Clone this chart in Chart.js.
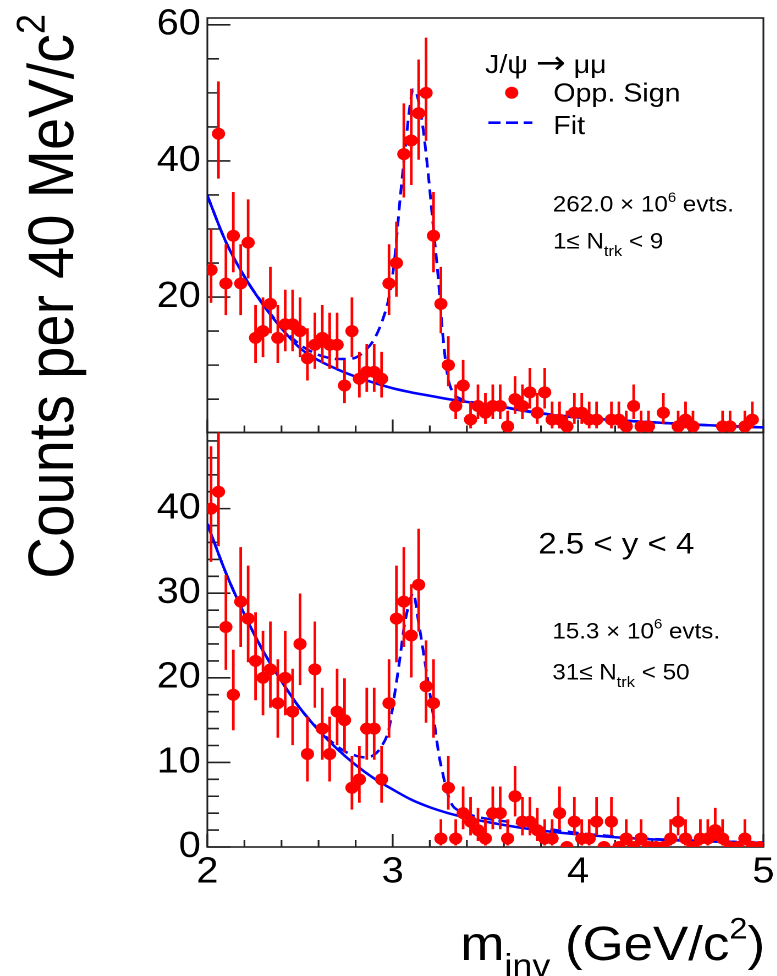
<!DOCTYPE html>
<html><head><meta charset="utf-8">
<script src="https://cdn.jsdelivr.net/npm/chart.js@4.4.1/dist/chart.umd.min.js"></script>
<style>
html,body{margin:0;padding:0;background:#fff;overflow:hidden;width:777px;height:976px;}
#wrap{position:absolute;left:0;top:0;width:706.36px;height:976px;transform:scaleX(1.1);transform-origin:0 0;}
</style></head><body>
<div id="wrap"><canvas id="c"></canvas></div>
<script>
// ---------------- data ----------------
const binCenters = [2.02,2.06,2.10,2.14,2.18,2.22,2.26,2.30,2.34,2.38,2.42,2.46,2.50,2.54,2.58,2.62,2.66,2.70,2.74,2.78,
  2.82,2.86,2.90,2.94,2.98,3.02,3.06,3.10,3.14,3.18,3.22,3.26,3.30,3.34,3.38,3.42,3.46,3.50,3.54,3.58,
  3.62,3.66,3.70,3.74,3.78,3.82,3.86,3.90,3.94,3.98,4.02,4.06,4.10,4.14,4.18,4.22,4.26,4.30,4.34,4.38,
  4.42,4.46,4.50,4.54,4.58,4.62,4.66,4.70,4.74,4.78,4.82,4.86,4.90,4.94,4.98];
// top panel: 1 <= Ntrk < 9
const countsTop = [24,44,22,29,22,28,14,15,19,14,16,16,15,11,13,14,13,13,7,15,
  8,9,9,8,22,25,41,43,47,50,29,19,10,4,7,2,4,3,4,4,
  1,5,4,6,3,6,2,2,1,3,3,2,2,0,2,2,1,4,1,1,
  0,3,0,1,2,1,0,0,0,1,1,0,1,2,0];
// bottom panel: 31 <= Ntrk < 50
const countsBottom = [40,42,26,18,29,27,22,20,21,17,20,16,24,11,21,14,11,16,15,7,
  8,14,14,8,17,27,29,25,31,19,17,1,7,1,4,3,2,1,4,4,
  1,6,3,3,2,1,1,4,0,3,1,1,3,0,3,0,1,0,1,0,
  0,0,1,3,1,0,1,1,2,1,0,0,1,0,0];
// fitted curves
const bkgTopX = [2.0,2.1,2.2,2.3,2.4,2.5,2.6,2.7,2.8,2.9,3.0,3.1,3.2,3.3,3.4,3.5,3.6,3.7,3.8,3.9,4.0,4.2,4.4,4.6,4.8,5.0];
const bkgTopY = [34.9,28.1,23.0,18.9,15.4,12.5,10.7,9.4,8.3,7.4,6.6,6.0,5.5,5.0,4.6,4.2,3.8,3.3,2.9,2.55,2.3,1.9,1.6,1.3,1.05,0.85];
const fitTopX = [2.0,2.1,2.2,2.3,2.4,2.5,2.6,2.65,2.7,2.75,2.8,2.85,2.9,2.95,2.98,3.01,3.04,3.07,3.09,3.11,3.13,3.16,3.19,3.22,3.245,3.27,3.295,3.32,3.37,3.45,3.5,3.6,3.7,3.8,3.9,4.0,4.2,4.4,4.6,4.8,5.0];
const fitTopY = [34.9,28.1,23.0,19.0,15.6,13.0,11.5,11.1,10.9,10.9,11.1,12.1,13.8,17.0,20.0,25.5,34.5,42.5,47.5,50.5,49.8,45.5,38.5,30.0,23.0,14.5,8.6,6.2,5.0,4.45,4.25,3.85,3.35,2.95,2.6,2.35,1.95,1.6,1.3,1.05,0.85];
const bkgBotX = [2.0,2.1,2.2,2.3,2.4,2.5,2.6,2.7,2.8,2.9,3.0,3.1,3.2,3.3,3.4,3.5,3.6,3.7,3.8,3.9,4.0,4.2,4.4,4.6,4.8,5.0];
const bkgBotY = [38.2,32.4,27.5,23.2,19.6,16.4,13.8,11.6,9.7,8.1,6.8,5.6,4.7,4.0,3.45,3.0,2.6,2.25,1.95,1.7,1.5,1.15,0.9,0.72,0.6,0.5];
const fitBotX = [2.0,2.1,2.2,2.3,2.4,2.5,2.6,2.7,2.75,2.8,2.85,2.9,2.94,2.98,3.01,3.04,3.06,3.09,3.11,3.14,3.18,3.22,3.25,3.27,3.29,3.32,3.37,3.45,3.55,3.65,3.75,3.85,4.0,4.2,4.4,4.6,4.8,5.0];
const fitBotY = [38.2,32.4,27.5,23.2,19.6,16.4,13.9,11.9,11.2,10.8,10.6,10.9,11.9,14.0,18.0,22.5,25.8,28.9,30.0,26.5,21.0,15.4,10.8,8.7,6.8,5.0,4.2,3.6,3.2,2.9,2.5,2.1,1.65,1.25,0.95,0.78,0.64,0.55];
const xTickValues = [2,3,4,5];
const yTopTickValues = [20,40,60];
const yBotTickValues = [0,10,20,30,40];

// ---------------- helpers ----------------
const FONT = '"Liberation Sans", Arial, Helvetica, sans-serif';
const SYMFONT = '"DejaVu Sans", "Liberation Sans", sans-serif';
const RED = '#ff0000', BLUE = '#0000ff';
// 68% Poisson (Garwood) interval, Wilson-Hilferty approximation
function poisUp(n){ const m=n+1; return m*Math.pow(1-1/(9*m)+1/(3*Math.sqrt(m)),3); }
function poisLo(n){ if(n<=0) return 0; return n*Math.pow(1-1/(9*n)-1/(3*Math.sqrt(n)),3); }
function pts(xs, ys, hideZero){ return xs.map((x,i)=>({x:x, y:(hideZero && ys[i]<=0)?null:ys[i]})); }
function noPad(s){ s.paddingTop=0; s.paddingBottom=0; s.paddingLeft=0; s.paddingRight=0; }

function drawRich(ctx, parts, x, y, size, align){
  const segs=[]; let w=0;
  for(const [t,k] of parts){
    const s = k==='sup'? size*0.62 : k==='sub'? size*0.68 : k==='arrow'? size*1.25 : size;
    const fam = k==='arrow'? SYMFONT : FONT;
    ctx.font = s+'px '+fam;
    const m = ctx.measureText(t).width;
    segs.push({t:t,s:s,f:fam,dy:k==='sup'? -size*0.45 : k==='sub'? size*0.34 : k==='arrow'? size*0.02 : 0,w:m});
    w+=m;
  }
  let cx = align==='right'? x-w : align==='center'? x-w/2 : x;
  ctx.textAlign='left'; ctx.textBaseline='alphabetic';
  for(const g of segs){ ctx.font=g.s+'px '+g.f; ctx.fillText(g.t,cx,y+g.dy); cx+=g.w; }
}

const framePlugin = {
  id:'frame',
  beforeDatasetsDraw(chart){
    const ctx=chart.ctx, xs=chart.scales.x, a=chart.chartArea;
    ctx.save();
    ctx.strokeStyle='#222'; ctx.lineWidth=1.6;
    const panels=[{s:chart.scales.yTop,minor:5,major:20,max:61,min:5},{s:chart.scales.yBot,minor:2,major:10,max:49,min:0}];
    for(const p of panels){
      const s=p.s;
      ctx.strokeRect(a.left, s.top, a.right-a.left, s.bottom-s.top);
      ctx.beginPath();
      for(let v=p.min; v<=p.max+1e-9; v+=p.minor){
        const py=s.getPixelForValue(v);
        if(py<s.top-0.5||py>s.bottom+0.5) continue;
        const isMaj=Math.abs(v/p.major-Math.round(v/p.major))<1e-6;
        ctx.moveTo(a.left,py); ctx.lineTo(a.left+(isMaj?21:10.5),py);
      }
      for(let k=0;k<=15;k++){
        const v=2+k*0.2, px=xs.getPixelForValue(v);
        const isMaj=(k%5===0);
        ctx.moveTo(px,s.bottom); ctx.lineTo(px,s.bottom-(isMaj?13:7));
      }
      ctx.stroke();
    }
    ctx.restore();
  },
  beforeDatasetDraw(chart,args){
    const ds=chart.data.datasets[args.index];
    if(!ds.counts) return;
    const ctx=chart.ctx, xs=chart.scales.x, ys=chart.scales[ds.yAxisID], a=chart.chartArea;
    ctx.save();
    ctx.beginPath(); ctx.rect(a.left-10, ys.top, a.right-a.left+20, ys.bottom-ys.top); ctx.clip();
    ctx.strokeStyle=RED; ctx.lineWidth=2.4;
    ctx.beginPath();
    ds.counts.forEach((n,i)=>{
      if(n<=0) return;
      const px=xs.getPixelForValue(binCenters[i]);
      ctx.moveTo(px, ys.getPixelForValue(poisLo(n)));
      ctx.lineTo(px, ys.getPixelForValue(poisUp(n)));
    });
    ctx.stroke();
    ctx.restore();
  },
  afterDraw(chart){
    const ctx=chart.ctx;
    ctx.save();
    ctx.fillStyle='#000';
    // legend
    drawRich(ctx,[['J/\u03c8 ','n'],['\u2192','arrow'],[' \u03bc\u03bc','n']],441,73,26,'left');
    ctx.fillStyle=RED; ctx.beginPath(); ctx.arc(465.2,92.7,6,0,Math.PI*2); ctx.fill();
    ctx.fillStyle='#000';
    drawRich(ctx,[['Opp. Sign','n']],503,101.7,26,'left');
    ctx.strokeStyle=BLUE; ctx.lineWidth=2.6; ctx.setLineDash([11,5]);
    ctx.beginPath(); ctx.moveTo(444,122.7); ctx.lineTo(484,122.7); ctx.stroke(); ctx.setLineDash([]);
    drawRich(ctx,[['Fit','n']],503,134,26,'left');
    // annotations
    drawRich(ctx,[['262.0 \u00d7 10','n'],['6','sup'],[' evts.','n']],502.5,211.7,22,'left');
    drawRich(ctx,[['1\u2264 N','n'],['trk','sub'],[' < 9','n']],502.7,248.3,22,'left');
    drawRich(ctx,[['2.5 < y < 4','n']],489.4,553.3,30,'left');
    drawRich(ctx,[['15.3 \u00d7 10','n'],['6','sup'],[' evts.','n']],502.1,638.3,22,'left');
    drawRich(ctx,[['31\u2264 N','n'],['trk','sub'],[' < 50','n']],502.1,679.3,22,'left');
    // axis titles
    drawRich(ctx,[['m','n'],['inv','sub'],[' (GeV/c','n'],['2','sup'],[')','n']],695.5,960,48,'right');
    ctx.translate(66.4,14); ctx.rotate(-Math.PI/2);
    drawRich(ctx,[['Counts per 40 MeV/c','n'],['2','sup']],0,0,58,'right');
    ctx.restore();
  }
};

const tickFont = {family:FONT, size:36};
const chart = new Chart(document.getElementById('c'), {
  type:'scatter',
  data:{datasets:[
    {label:'Opp. Sign (1\u2264Ntrk<9)', data:pts(binCenters,countsTop,true), counts:countsTop, yAxisID:'yTop',
      backgroundColor:RED, borderColor:RED, pointRadius:6, pointBorderWidth:0, showLine:false},
    {label:'Opp. Sign (31\u2264Ntrk<50)', data:pts(binCenters,countsBottom,false), counts:countsBottom, yAxisID:'yBot',
      backgroundColor:RED, borderColor:RED, pointRadius:6, pointBorderWidth:0, showLine:false},
    {type:'line', label:'Fit top', data:pts(fitTopX,fitTopY), yAxisID:'yTop', borderColor:BLUE, borderWidth:2.5,
      borderDash:[10,6], pointRadius:0, fill:false, cubicInterpolationMode:'monotone'},
    {type:'line', label:'Bkg top', data:pts(bkgTopX,bkgTopY), yAxisID:'yTop', borderColor:BLUE, borderWidth:2.5,
      pointRadius:0, fill:false, cubicInterpolationMode:'monotone'},
    {type:'line', label:'Fit bottom', data:pts(fitBotX,fitBotY), yAxisID:'yBot', borderColor:BLUE, borderWidth:2.5,
      borderDash:[10,6], pointRadius:0, fill:false, cubicInterpolationMode:'monotone'},
    {type:'line', label:'Bkg bottom', data:pts(bkgBotX,bkgBotY), yAxisID:'yBot', borderColor:BLUE, borderWidth:2.5,
      pointRadius:0, fill:false, cubicInterpolationMode:'monotone'}
  ]},
  options:{
    responsive:true, maintainAspectRatio:false, animation:false, devicePixelRatio:2,
    layout:{padding:{top:18,right:12.4,left:0,bottom:0}},
    plugins:{legend:{display:false}, tooltip:{enabled:false}},
    scales:{
      x:{type:'linear', position:'bottom', min:2, max:5,
        grid:{display:false, drawTicks:false}, border:{display:false},
        afterBuildTicks:s=>{s.ticks=xTickValues.map(v=>({value:v}));},
        afterFit:s=>{s.height=129; noPad(s);},
        ticks:{font:tickFont, color:'#000', padding:4, autoSkip:false, maxRotation:0, callback:v=>String(v)}},
      yBot:{type:'linear', position:'left', stack:'panels', stackWeight:1, min:0, max:49,
        grid:{display:false, drawTicks:false}, border:{display:false},
        afterBuildTicks:s=>{s.ticks=yBotTickValues.map(v=>({value:v}));},
        afterFit:s=>{s.width=188.5; noPad(s);},
        ticks:{font:tickFont, color:'#000', padding:6, autoSkip:false, callback:v=>String(v)}},
      yTop:{type:'linear', position:'left', stack:'panels', stackWeight:1, min:0.1, max:61,
        grid:{display:false, drawTicks:false}, border:{display:false},
        afterBuildTicks:s=>{s.ticks=yTopTickValues.map(v=>({value:v}));},
        afterFit:s=>{s.width=188.5; noPad(s);},
        ticks:{font:tickFont, color:'#000', padding:6, autoSkip:false, callback:v=>String(v)}}
    }
  },
  plugins:[framePlugin]
});
</script>
</body></html>
